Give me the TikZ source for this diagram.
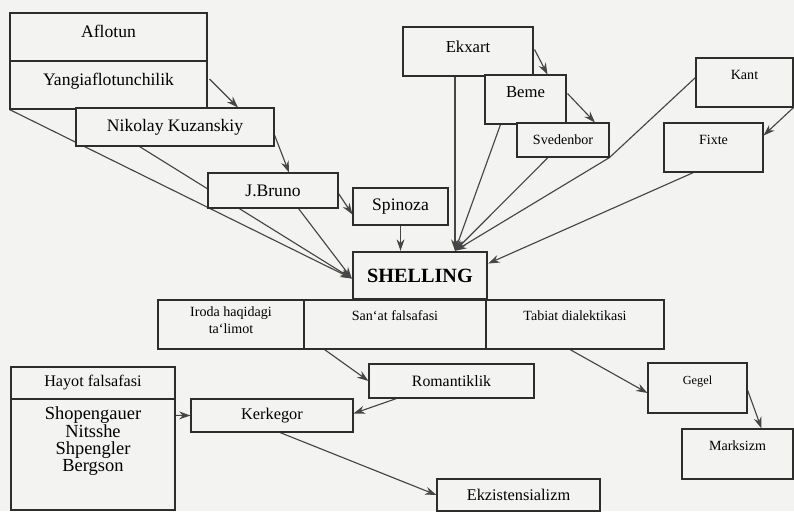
\documentclass[tikz,border=0pt]{standalone}
\usepackage{fontspec}
\setmainfont{Liberation Serif}
\usetikzlibrary{positioning,arrows.meta,calc}
\definecolor{Paper}{RGB}{243,243,241}
\definecolor{Ink}{RGB}{45,45,45}
\definecolor{LinkGray}{RGB}{70,70,70}
\pgfdeclarelayer{paper}
\pgfdeclarelayer{links}
\pgfsetlayers{paper,links,main}

\begin{document}
\begin{tikzpicture}[x=0.02cm,y=-0.02cm,
  every node/.style={font=\fontsize{10}{11}\selectfont, align=center},
  ibox/.style={draw=Ink, fill=Paper, inner sep=1pt, line width=0.6pt},
  smalltext/.style={font=\fontsize{8}{9.5}\selectfont},
  raised/.style={text depth=#1},
  link/.style={-{Stealth[length=6.5pt,width=4.5pt]}, LinkGray, line width=0.65pt}]
  \begin{pgfonlayer}{paper}
    \fill[Paper] (0,0) rectangle (794,511);
  \end{pgfonlayer}
  \useasboundingbox (0,0) rectangle (794,511);

  \node[ibox, raised=6pt, minimum width=3.94cm, minimum height=0.96cm] (aflotun) at (108.5,37) {Aflotun};
  \node[ibox, raised=7pt, minimum width=3.94cm, minimum height=0.96cm] (yangi) at (108.5,85) {Yangiaflotunchilik};
  \node[ibox, minimum width=3.96cm, minimum height=0.76cm] (nikolay) at (175,127) {Nikolay Kuzanskiy};
  \node[ibox, minimum width=2.6cm, minimum height=0.7cm] (bruno) at (273,190.5) {J.Bruno};
  \node[ibox, minimum width=1.9cm, minimum height=0.74cm] (spinoza) at (400.5,206.5) {Spinoza};
  \node[ibox, line width=1.4pt, minimum width=2.68cm, minimum height=0.94cm,
        font=\bfseries\fontsize{11.5}{13}\selectfont] (shelling) at (420,275.5) {SHELLING};

  \node[ibox, raised=6pt, minimum width=2.6cm, minimum height=0.98cm, font=\fontsize{9.5}{11}\selectfont] (ekxart) at (468,51.5) {Ekxart};
  \node[ibox, raised=8pt, minimum width=1.62cm, minimum height=0.98cm, font=\fontsize{9.5}{11}\selectfont] (beme) at (525.5,99.5) {Beme};
  \node[ibox, smalltext, minimum width=1.84cm, minimum height=0.68cm] (sveden) at (563,140) {Svedenbor};
  \node[ibox, smalltext, raised=9pt, minimum width=1.94cm, minimum height=0.98cm] (kant) at (744.5,82.5) {Kant};
  \node[ibox, smalltext, raised=9pt, minimum width=1.98cm, minimum height=0.98cm] (fixte) at (713.5,147.5) {Fixte};

  \node[ibox, smalltext, raised=5pt, minimum width=2.92cm, minimum height=0.98cm] (iroda) at (231,324.5) {Iroda haqidagi\\ta`limot};
  \node[ibox, smalltext, raised=10pt, minimum width=3.64cm, minimum height=0.98cm] (sanat) at (395,324.5) {San`at falsafasi};
  \node[ibox, smalltext, raised=10pt, minimum width=3.56cm, minimum height=0.98cm] (tabiat) at (575,324.5) {Tabiat dialektikasi};

  \node[ibox, minimum width=3.3cm, minimum height=0.68cm, font=\fontsize{9}{11}\selectfont] (romant) at (451.5,381) {Romantiklik};
  \node[ibox, raised=9pt, minimum width=1.98cm, minimum height=1cm, font=\fontsize{7}{8}\selectfont] (gegel) at (697.5,388) {Gegel};
  \node[ibox, smalltext, raised=9pt, minimum width=2.22cm, minimum height=1cm] (marks) at (737.5,454) {Marksizm};
  \node[ibox, minimum width=3.24cm, minimum height=0.66cm, font=\fontsize{9.3}{11}\selectfont] (kerkegor) at (272,415.5) {Kerkegor};
  \node[ibox, minimum width=3.26cm, minimum height=0.64cm, font=\fontsize{9.3}{11}\selectfont] (ekzist) at (518.5,495) {Ekzistensializm};

  \node[ibox, minimum width=3.28cm, minimum height=0.64cm, font=\fontsize{9.2}{11}\selectfont] (hayot) at (93,383) {Hayot falsafasi};
  \node[ibox, minimum width=3.28cm, minimum height=2.22cm] (lifelist) at (93,454.5) {};
  \node[inner sep=1pt, font=\fontsize{10.5}{11}\selectfont] (shopen) at (93,415) {Shopengauer};
  \node[font=\fontsize{10.5}{9.8}\selectfont, anchor=north] (others) at (93,418) {Nitsshe\\Shpengler\\Bergson};

  \begin{pgfonlayer}{links}
    \coordinate (sleft) at ($(shelling.west)+(0,3)$);
    \coordinate (stop) at ($(shelling.north)+(35,0)$);
    \draw[link] ($(yangi.east)+(2,-6)$) -- ($(nikolay.north)+(63,0)$);
    \draw[link] ($(nikolay.east)+(0,8)$) -- ($(bruno.north)+(16,0)$);
    \draw[link] ($(bruno.east)+(0,3)$) -- ($(spinoza.west)+(0,8)$);
    \draw[link] (spinoza.south) -- (spinoza.south |- shelling.north);
    \draw[link] (yangi.south west) -- (sleft);
    \draw[link] ($(nikolay.south west)+(64,0)$) -- (sleft);
    \draw[link] ($(bruno.south east)+(-40,0)$) -- (sleft);
    \draw[link] ($(ekxart.east)+(1,-2)$) -- ($(beme.north)+(22,0)$);
    \draw[link] ($(beme.east)+(1,-6)$) -- ($(sveden.north)+(32,0)$);
    \draw[link] (stop |- ekxart.south) -- (stop);
    \draw[link] ($(beme.south)+(-25,0)$) -- (stop);
    \draw[link] ($(sveden.south)+(-15,0)$) -- (stop);
    \draw[link] ($(kant.west)+(0,-5)$) -- (sveden.south east) -- (stop);
    \draw[link] (kant.south east) -- ($(fixte.east)+(0,-12)$);
    \draw[link] ($(fixte.south)+(-20,0)$) -- ($(shelling.east)+(0,-12)$);
    \draw[link] ($(sanat.south west)+(21,0)$) -- (romant.west);
    \draw[link] ($(romant.south west)+(28,0)$) -- ($(kerkegor.east)+(0,-2)$);
    \draw[link] (shopen.east) -- (kerkegor.west);
    \draw[link] ($(kerkegor.south)+(8,0)$) -- (ekzist.west);
    \draw[link] ($(tabiat.south)+(-5,0)$) -- ($(gegel.west)+(0,5)$);
    \draw[link] ($(gegel.east)+(0,2)$) -- ($(marks.north)+(24,0)$);
  \end{pgfonlayer}
\end{tikzpicture}
\end{document}
